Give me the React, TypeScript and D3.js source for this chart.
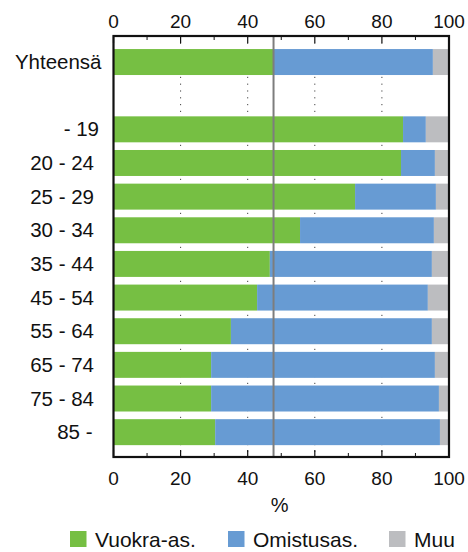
import React from "react";
import * as d3 from "d3";

const categories = ["Yhteensä", "- 19", "20 - 24", "25 - 29", "30 - 34", "35 - 44", "45 - 54", "55 - 64", "65 - 74", "75 - 84", "85 -"];
const vuokra = [47.7, 86.3, 85.7, 72.0, 55.6, 46.6, 42.8, 35.0, 29.1, 29.1, 30.3];
const omistus = [47.5, 6.8, 10.1, 24.1, 39.9, 48.3, 50.9, 59.9, 66.7, 67.9, 67.0];
const muu = [4.8, 6.9, 4.2, 3.9, 4.5, 5.1, 6.3, 5.1, 4.2, 3.0, 2.7];
const seriesNames = ["Vuokra-as.", "Omistusas.", "Muu"];
const xTicks = [0, 20, 40, 60, 80, 100];
const minorTicks = [10, 30, 50, 70, 90];
const gridTicks = [20, 40, 60, 80];
const axisTitle = "%";
const refValue = vuokra[0];

const colors = ["#76bf43", "#679bd3", "#bcbdc0"];
const FONT = "'Liberation Sans', Arial, Helvetica, sans-serif";
const GAP = "__gap";

export default function App() {
  const W = 468, H = 552;
  const left = 113.5, right = 449, top = 36, bottom = 457;
  const x = d3.scaleLinear().domain([0, 100]).range([left, right]);
  const slots = [categories[0], GAP, ...categories.slice(1)];
  const y = d3.scaleBand<string>().domain(slots).range([top + 0.6, bottom + 0.6]).paddingInner(0.228).paddingOuter(0.37);

  const rows = categories.map((c, i) => ({ cat: c, a: vuokra[i], b: omistus[i], c2: muu[i] }));
  const stack = d3.stack<any>().keys(["a", "b", "c2"]);
  const stacked = stack(rows);

  const labelNudge: Record<string, number> = { "Yhteensä": 7.5, "- 19": 5, "85 -": -1.5 };

  const legendX = [70, 228, 389];

  return (
    <svg width={W} height={H} style={{ position: "absolute", left: 0, top: 0 }} fontFamily={FONT}>
      <rect width={W} height={H} fill="#fff" />
      {gridTicks.map((t) => (
        <line key={"g" + t} x1={x(t)} x2={x(t)} y1={top} y2={bottom} stroke="#444" strokeWidth={1} strokeDasharray="1.2 5.6" />
      ))}
      {stacked.map((s, si) => (
        <g key={si} fill={colors[si]}>
          {s.map((d, i) => (
            <rect key={i} x={x(d[0])} y={y(rows[i].cat)} width={x(d[1]) - x(d[0])} height={y.bandwidth()} />
          ))}
        </g>
      ))}
      <line x1={x(refValue)} x2={x(refValue)} y1={top} y2={bottom} stroke="#7d7d7d" strokeWidth={2} />
      {xTicks.map((t) => (
        <g key={"t" + t}>
          <line x1={x(t)} x2={x(t)} y1={top} y2={top + 7} stroke="#111" strokeWidth={1.2} />
          <line x1={x(t)} x2={x(t)} y1={bottom} y2={bottom - 7} stroke="#111" strokeWidth={1.2} />
          <text x={x(t)} y={28} textAnchor="middle" fontSize={19} fill="#111">{t}</text>
          <text x={x(t)} y={485} textAnchor="middle" fontSize={19} fill="#111">{t}</text>
        </g>
      ))}
      {minorTicks.map((t) => (
        <g key={"m" + t}>
          <line x1={x(t)} x2={x(t)} y1={top} y2={top + 4} stroke="#111" strokeWidth={1} />
          <line x1={x(t)} x2={x(t)} y1={bottom} y2={bottom - 4} stroke="#111" strokeWidth={1} />
        </g>
      ))}
      <rect x={left} y={top} width={right - left} height={bottom - top} fill="none" stroke="#111" strokeWidth={2.2} />
      {categories.map((c) => (
        <text key={c} x={94 + (labelNudge[c] || 0)} y={(y(c) as number) + y.bandwidth() / 2 + 7} textAnchor="end" fontSize={20.5} fill="#111">{c}</text>
      ))}
      <text x={x(49.5)} y={512} textAnchor="middle" fontSize={20} fill="#111">{axisTitle}</text>
      {seriesNames.map((n, i) => (
        <g key={n}>
          <rect x={legendX[i]} y={531} width={16.5} height={16} fill={colors[i]} />
          <text x={legendX[i] + 25} y={547} fontSize={21} fill="#111">{n}</text>
        </g>
      ))}
    </svg>
  );
}
